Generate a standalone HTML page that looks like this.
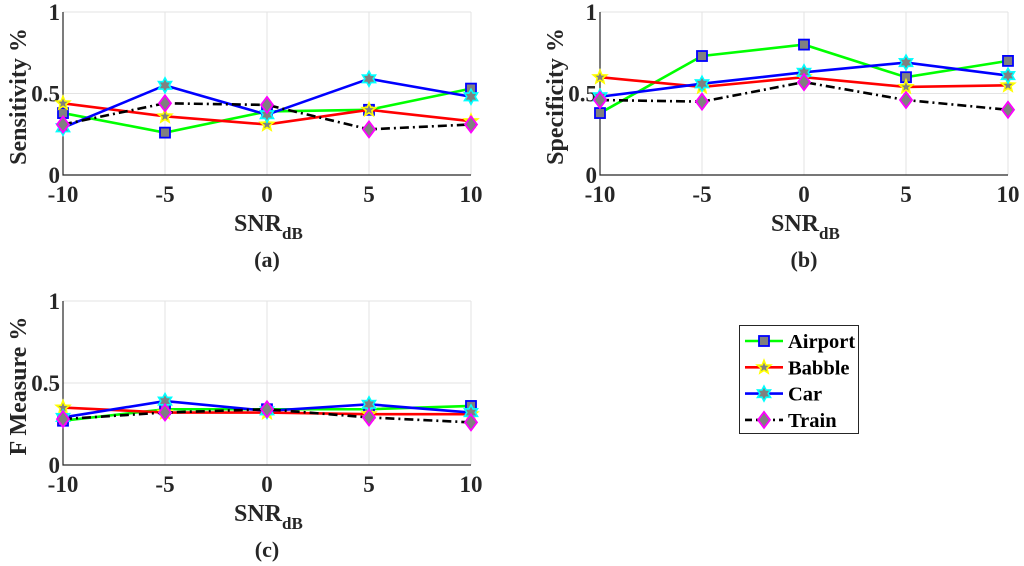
<!DOCTYPE html>
<html><head><meta charset="utf-8"><style>
html,body{margin:0;padding:0;background:#fff;}
svg{display:block;font-family:"Liberation Serif",serif;font-weight:bold;}
</style></head><body>
<svg id="fig" width="1024" height="566" viewBox="0 0 1024 566" xmlns="http://www.w3.org/2000/svg"></svg>
<script>
const snr = [-10, -5, 0, 5, 10];
const xTicks = ["-10", "-5", "0", "5", "10"];
const yTicks = [0, 0.5, 1];
const yTickLabels = ["0", "0.5", "1"];
const seriesNames = ["Airport", "Babble", "Car", "Train"];
const sensAirport = [0.38, 0.26, 0.39, 0.40, 0.53];
const sensBabble  = [0.44, 0.36, 0.31, 0.40, 0.33];
const sensCar     = [0.29, 0.55, 0.37, 0.59, 0.48];
const sensTrain   = [0.31, 0.44, 0.43, 0.28, 0.31];
const specAirport = [0.38, 0.73, 0.80, 0.60, 0.70];
const specBabble  = [0.60, 0.54, 0.60, 0.54, 0.55];
const specCar     = [0.48, 0.56, 0.63, 0.69, 0.61];
const specTrain   = [0.46, 0.45, 0.57, 0.46, 0.40];
const fAirport = [0.27, 0.34, 0.34, 0.34, 0.36];
const fBabble  = [0.35, 0.32, 0.32, 0.31, 0.31];
const fCar     = [0.29, 0.39, 0.33, 0.37, 0.32];
const fTrain   = [0.28, 0.32, 0.34, 0.29, 0.26];

const NS = "http://www.w3.org/2000/svg";
const svg = document.getElementById("fig");
function mk(tag, attrs, parent) {
  const e = document.createElementNS(NS, tag);
  for (const k in attrs) e.setAttribute(k, attrs[k]);
  (parent || svg).appendChild(e);
  return e;
}
const styles = [
  {color: "#00ff00", dash: null, marker: "square", mEdge: "#0000ff"},
  {color: "#ff0000", dash: null, marker: "star5", mEdge: "#ffff00"},
  {color: "#0000ff", dash: null, marker: "star6", mEdge: "#00ffff"},
  {color: "#000000", dash: "9,4,2,4", marker: "diamond", mEdge: "#ff00ff"}
];
function starPts(cx, cy, n, ro, ri) {
  const p = [];
  for (let i = 0; i < 2 * n; i++) {
    const r = i % 2 ? ri : ro;
    const a = -Math.PI / 2 + i * Math.PI / n;
    p.push((cx + r * Math.cos(a)).toFixed(1) + "," + (cy + r * Math.sin(a)).toFixed(1));
  }
  return p.join(" ");
}
function marker(g, type, cx, cy, edge) {
  let m;
  if (type === "square") m = mk("rect", {x: cx - 5, y: cy - 5, width: 10, height: 10, fill: "#808080", stroke: edge, "stroke-width": 1.8}, g);
  else if (type === "star5") m = mk("polygon", {points: starPts(cx, cy, 5, 7, 3), fill: "#808080", stroke: edge, "stroke-width": 1.6}, g);
  else if (type === "star6") m = mk("polygon", {points: starPts(cx, cy, 6, 7.5, 4.2), fill: "#808080", stroke: edge, "stroke-width": 1.6}, g);
  else m = mk("polygon", {points: `${cx},${cy - 8} ${cx + 6},${cy} ${cx},${cy + 8} ${cx - 6},${cy}`, fill: "#808080", stroke: edge, "stroke-width": 1.8}, g);
  return m;
}
function panel(name, x0, x1, y0, y1, ylabel, caption, data) {
  const g = mk("g", {});
  
  
  const xs = v => x0 + (v - snr[0]) / (snr[snr.length - 1] - snr[0]) * (x1 - x0);
  const ys = v => y1 - v * (y1 - y0);
  snr.forEach((v) => { const l = mk("line", {x1: xs(v), x2: xs(v), y1: y0, y2: y1, stroke: "#e3e3e3", "stroke-width": 1}, g);   });
  yTicks.forEach((v) => { const l = mk("line", {x1: x0, x2: x1, y1: ys(v), y2: ys(v), stroke: "#e3e3e3", "stroke-width": 1}, g);   });
  const ax = mk("path", {d: `M${x0},${y0} V${y1} H${x1}`, fill: "none", stroke: "#262626", "stroke-width": 1.2}, g);
  
  
  snr.forEach((v, i) => {
    const t = mk("text", {x: xs(v), y: y1 + 27, "font-size": 23, "text-anchor": "middle", fill: "#262626"}, g);
    t.textContent = xTicks[i];
    
    
  });
  yTicks.forEach((v, i) => {
    const t = mk("text", {x: x0 - 3, y: ys(v) + 8, "font-size": 23, "text-anchor": "end", fill: "#262626"}, g);
    t.textContent = yTickLabels[i];
    
    
  });
  const cx = (x0 + x1) / 2;
  const xl = mk("text", {x: cx - 33, y: y1 + 56, "font-size": 24, fill: "#262626"}, g);
  xl.innerHTML = 'SNR<tspan dy="8" font-size="17">dB</tspan>';
  
  
  const cap = mk("text", {x: cx, y: y1 + 92, "font-size": 22, "text-anchor": "middle", fill: "#262626"}, g);
  cap.textContent = caption;
  
  
  const yl = mk("text", {x: 0, y: 0, "font-size": 24, "text-anchor": "middle", fill: "#262626", transform: `translate(${x0 - 37},${(y0 + y1) / 2 + 3}) rotate(-90)`}, g);
  yl.textContent = ylabel;
  
  
  data.forEach((vals, si) => {
    const st = styles[si];
    const sg = mk("g", {}, g);
    
    
    const pts = vals.map((v, i) => xs(snr[i]) + "," + ys(v)).join(" ");
    const pl = mk("polyline", {points: pts, fill: "none", stroke: st.color, "stroke-width": 2.6}, sg);
    if (st.dash) pl.setAttribute("stroke-dasharray", st.dash);
    
    
    vals.forEach((v, i) => {
      const m = marker(sg, st.marker, xs(snr[i]), ys(v), st.mEdge);
      
      
    });
  });
}
panel("sensitivity-chart", 63, 471, 12, 175, "Sensitivity %", "(a)", [sensAirport, sensBabble, sensCar, sensTrain]);
panel("specificity-chart", 600, 1008, 12, 175, "Specificity %", "(b)", [specAirport, specBabble, specCar, specTrain]);
panel("f-measure-chart", 63, 471, 301, 465, "F Measure %", "(c)", [fAirport, fBabble, fCar, fTrain]);

const lg = mk("g", {});


mk("rect", {x: 739.5, y: 325.5, width: 119, height: 108, fill: "#fff", stroke: "#262626", "stroke-width": 1}, lg);
seriesNames.forEach((n, i) => {
  const y = 341 + i * 26.3;
  const st = styles[i];
  const e = mk("g", {}, lg);
  
  
  const l = mk("line", {x1: 745, x2: 783, y1: y, y2: y, stroke: st.color, "stroke-width": 2.6}, e);
  if (st.dash) l.setAttribute("stroke-dasharray", "7,4,2,4");
  marker(e, st.marker, 764, y, st.mEdge);
  const t = mk("text", {x: 788, y: y + 7, "font-size": 20.5, fill: "#000"}, e);
  t.textContent = n;
});
</script>
</body></html>
